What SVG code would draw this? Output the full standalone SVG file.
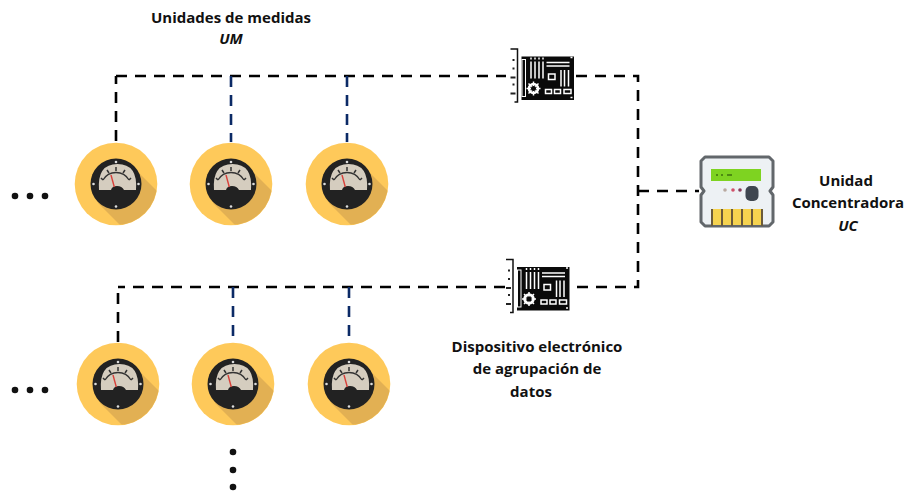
<svg xmlns="http://www.w3.org/2000/svg" width="906" height="491" viewBox="0 0 906 491">
<style>
text{font-family:"Open Sans","Liberation Sans",Arial,sans-serif;font-size:15px;font-weight:700;fill:#111;text-anchor:middle}
.i{font-style:italic}
.k{fill:none;stroke:#000;stroke-width:2.6;stroke-dasharray:11 8}
.b{fill:none;stroke:#0b2a66;stroke-width:2.6;stroke-dasharray:11 8}
.w{fill:none;stroke:#fff;stroke-width:1.500}
.d{fill:#111}
</style>
<defs>
<clipPath id="cc"><circle r="41"/></clipPath>
<symbol id="meter" overflow="visible">
<circle r="41.3" fill="#fec95a"/>
<path d="M18 -16L60 26L24 61L-18 19Z" fill="#e2b053" clip-path="url(#cc)"/>
<circle r="25.5" fill="#222"/>
<path d="M-17 6Q-19 -20 1.500 -20Q22 -20 20 6H8Q6 2 1 2Q-4 2 -5 6Z" fill="#d5cdbf"/>
<path d="M-13 -4A15 15 0 0 1 13 -4" stroke="#333" stroke-width="1.300" fill="none"/>
<path d="M-13 -4L-15 -6M-7 -11L-9 -14M0 -13V-17M7 -11L9 -14M13 -4L15 -6" stroke="#333" stroke-width="1.500" fill="none"/>
<path d="M-5 -9L-1.700 3" stroke="#d8403a" stroke-width="1.400"/>
<g fill="#ddd"><circle cy="-22" r="1.300"/><circle cy="22.500" r="1.300"/><circle cx="-22.500" r="1.300"/><circle cx="22.500" r="1.300"/></g>
</symbol>
<symbol id="board" overflow="visible">
<path d="M-11 -7.500H-4V45.500H-7" fill="none" stroke="#111" stroke-width="1.500"/>
<path d="M0 0H52.500V43.500H0Z" fill="#0a0a0a"/>
<path d="M-9 3.500h2M-9 12h2M-11 21h5M-9 28h2M-11 37h5" stroke="#222" stroke-width="2"/>
<rect x="0.500" y="3" width="3.500" height="37" fill="none" stroke="#fff" stroke-width="1"/>
<path class="w" d="M9.500 5V22M13.500 5V22M17.500 5V22M21.500 5V22"/>
<path d="M9.500 1V3M13.500 1V3M17.500 1V3M21.500 1V3" stroke="#fff" stroke-width="1.500"/>
<path class="w" d="M25 6H48M25 9.500H48"/>
<path class="w" d="M39.500 13.500V30M43 13.500V30M47 13.500V30"/>
<rect x="27" y="17.500" width="6.500" height="5.500" fill="none" stroke="#fff" stroke-width="1.500"/>
<circle cx="12" cy="32" r="4.500" fill="none" stroke="#fff" stroke-width="2.600"/>
<path d="M12 25V39M5 32H19M7 27L17 37M17 27L7 37" stroke="#fff" stroke-width="1.500"/>
<circle cx="12" cy="32" r="2.500" fill="#0a0a0a"/>
<rect x="24" y="33" width="6" height="4" fill="none" stroke="#fff" stroke-width="1.500"/>
<rect x="33" y="33" width="6" height="4" fill="none" stroke="#fff" stroke-width="1.500"/>
<rect x="42.500" y="33" width="7" height="4" fill="none" stroke="#fff" stroke-width="1.500"/>
<path d="M49 1h2M49 41h2" stroke="#fff" stroke-width="1.500"/>
</symbol>
</defs>
<g id="connectors">
<path class="k" d="M116 76H506M576 76H638V287H576M638 191H699M505 287H118M116 141V76M118 342V287"/>
<path class="b" d="M231 76V142M347 76V142M233 287V342M349 287V342"/>
</g>
<g id="um-1"><use href="#meter" x="116" y="184"/></g>
<g id="um-2"><use href="#meter" x="231" y="184"/></g>
<g id="um-3"><use href="#meter" x="347" y="184"/></g>
<g id="um-4"><use href="#meter" x="118" y="384"/></g>
<g id="um-5"><use href="#meter" x="233" y="384"/></g>
<g id="um-6"><use href="#meter" x="349" y="384"/></g>
<g id="device-1"><use href="#board" x="521.500" y="56.500"/></g>
<g id="device-2"><use href="#board" x="517" y="267"/></g>
<g id="uc">
<path d="M705 157H769L773 161V187L770 191L773 195V222L769 226H705L701 222V195L704 191L701 187V161Z" fill="#edf1f4" stroke="#62676b" stroke-width="3" stroke-linejoin="round"/>
<rect x="711" y="169" width="50" height="12" fill="#7ed321"/>
<path d="M716 175h2M721 175h2M727 175h5" stroke="#4d8a12" stroke-width="2"/>
<circle cx="725" cy="190" r="1.800" fill="#b9a9a0"/><circle cx="733" cy="190" r="1.800" fill="#d0506a"/><circle cx="740" cy="190" r="1.800" fill="#8a3a5a"/>
<rect x="745.500" y="186" width="13" height="15" rx="5" fill="#3f4650"/>
<rect x="712" y="209" width="50" height="16" fill="#f6d34f"/>
<path d="M712 209V226M722 209V226M732 209V226M742 209V226M752 209V226M762 209V226" stroke="#6b5a3a" stroke-width="2"/>
</g>
<g id="dots" class="d">
<circle cx="15" cy="196" r="3.300"/><circle cx="30" cy="196" r="3.300"/><circle cx="45" cy="196" r="3.300"/>
<circle cx="15" cy="390" r="3.300"/><circle cx="30" cy="390" r="3.300"/><circle cx="45" cy="390" r="3.300"/>
<circle cx="233" cy="452" r="3.300"/><circle cx="233" cy="470" r="3.300"/><circle cx="233" cy="487" r="3.300"/>
</g>
<g id="labels">
<text x="231" y="23">Unidades de medidas</text>
<text x="231" y="44" class="i">UM</text>
<text x="846" y="186">Unidad</text>
<text x="848" y="208">Concentradora</text>
<text x="848" y="231" class="i">UC</text>
<text x="537" y="352">Dispositivo electrónico</text>
<text x="537" y="374">de agrupación de</text>
<text x="531" y="397">datos</text>
</g>
</svg>
